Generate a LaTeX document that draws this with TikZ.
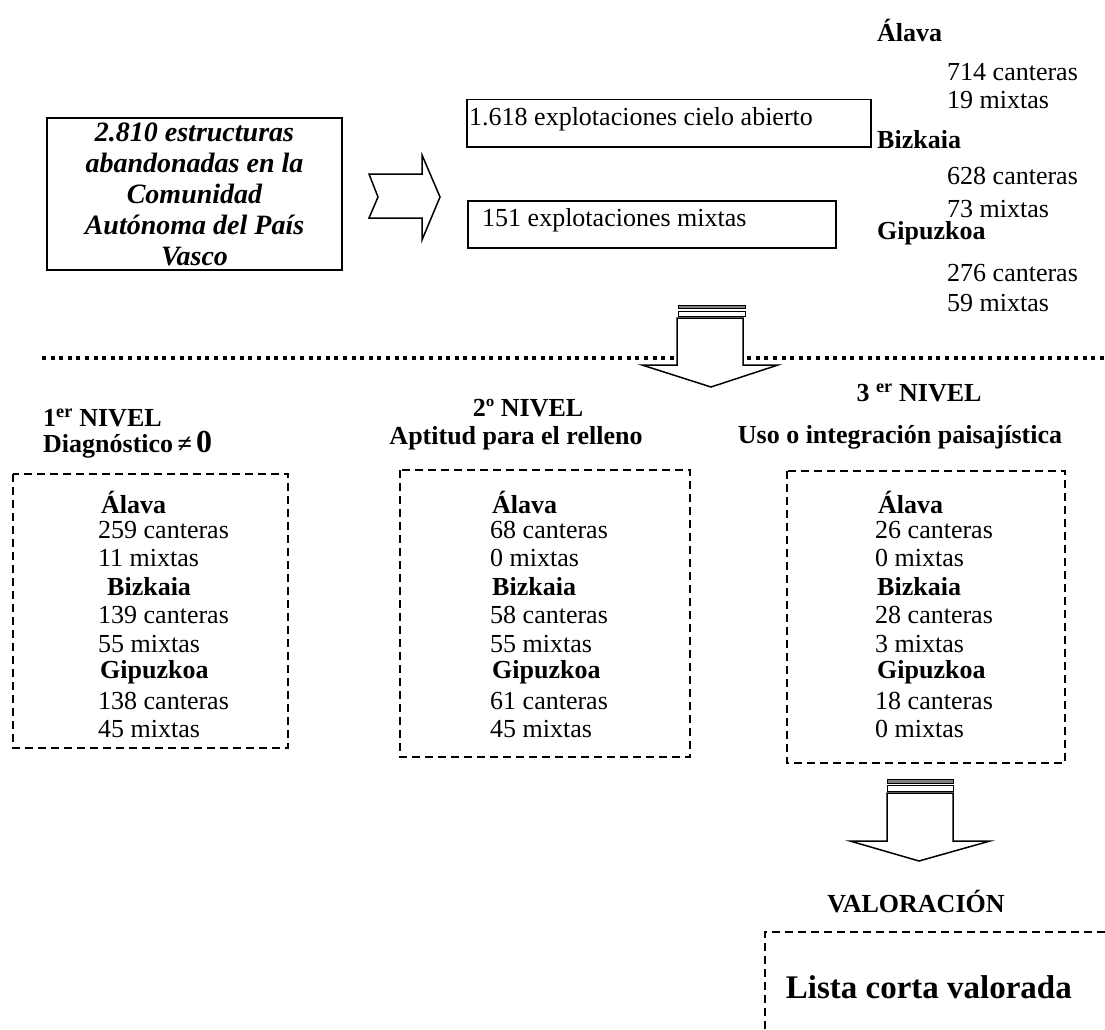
\documentclass[tikz,border=0pt]{standalone}
\usepackage{fontspec}
\setmainfont{Liberation Serif}
\tikzset{
  txt/.style={inner sep=0pt,anchor=west,font=\fontsize{26}{29}\selectfont},
  hdr/.style={inner sep=0pt,anchor=west,font=\fontsize{26}{29}\selectfont\bfseries},
  solidbox/.style={draw,line width=1.5pt},
  nivelbox/.style={line width=1.5pt,dash pattern=on 8pt off 5pt},
  blockarrow/.style={line width=1.5pt,fill=white,line join=miter},
}
\begin{document}
\begin{tikzpicture}[x=1pt,y=-1pt]
	\useasboundingbox (0,0) rectangle (1105,1030);
	% totales por provincia
	\node[hdr] (alava) at (877,30) {Álava};
	\node[txt] (alavac) at (947,72) {714 canteras};
	\node[txt] (alavam) at (947,100) {19 mixtas};
	\node[hdr] (bizkaia) at (877,140) {Bizkaia};
	\node[txt] (bizkaiac) at (947,176) {628 canteras};
	\node[txt] (bizkaiam) at (947,209) {73 mixtas};
	\node[hdr] (gipuzkoa) at (877,233) {Gipuzkoa};
	\node[txt] (gipuzkoac) at (947,273) {276 canteras};
	\node[txt] (gipuzkoam) at (947,303) {59 mixtas};
	% estructuras
	\node[solidbox,minimum width=295pt,minimum height=152pt,align=center,inner sep=0pt,
		font=\fontsize{28}{31}\selectfont\bfseries\itshape] (total) at (194.5,194)
		{2.810 estructuras\\abandonadas en la\\Comunidad\\Autónoma del País\\Vasco};
	\node[solidbox,anchor=north west,minimum width=404pt,minimum height=47pt,inner sep=0pt] (cielo) at (466,99) {};
	\node[txt] (cielot) at (469,119) {1.618 explotaciones cielo abierto};
	\node[solidbox,anchor=north west,minimum width=368pt,minimum height=47pt,inner sep=0pt] (mixtas) at (467,200) {};
	\node[txt] (mixtast) at (482,220) {151 explotaciones mixtas};
	\draw[blockarrow] (369,174)--(422,174)--(422,155)--(440,197)--(422,240)--(422,218)--(369,218)--(378,197)--cycle;
	% separador
	\draw[line width=4pt,dash pattern=on 4pt off 4.6pt] (42,358)--(1105,358);
	\draw[blockarrow] (677,318)--(677,365)--(642,365)--(711,387)--(778,365)--(743,365)--(743,318)--cycle;
	\draw[line width=1pt,fill=gray] (678,305) rectangle (745,308);
	\draw[line width=1pt] (678,311) rectangle (745,316);
	% niveles
	\node[hdr] (n1) at (43,418) {1\textsuperscript{er} NIVEL};
	\node[hdr] (d1) at (43,445) {Diagnóstico\,≠\,{\fontsize{32}{32}\selectfont 0}};
	\node[hdr,anchor=center] (n2) at (528,408) {2º NIVEL};
	\node[hdr,anchor=center] (d2) at (516,438) {Aptitud para el relleno};
	\node[hdr,anchor=center] (n3) at (919,393) {3 \textsuperscript{er} NIVEL};
	\node[hdr,anchor=center] (d3) at (900,437) {Uso o integración paisajística};
	\draw[nivelbox] (13,474) rectangle (288,748);
	\draw[nivelbox] (400,470) rectangle (690,757);
	\draw[nivelbox] (787,471) rectangle (1065,763);
	% nivel 1
	\node[hdr] (a1) at (101,502) {Álava};
	\node[txt] (a1c) at (98,530) {259 canteras};
	\node[txt] (a1m) at (98,558) {11 mixtas};
	\node[hdr] (b1) at (107,587) {Bizkaia};
	\node[txt] (b1c) at (98,615) {139 canteras};
	\node[txt] (b1m) at (98,644) {55 mixtas};
	\node[hdr] (g1) at (100,672) {Gipuzkoa};
	\node[txt] (g1c) at (98,701) {138 canteras};
	\node[txt] (g1m) at (98,729) {45 mixtas};
	% nivel 2
	\node[hdr] (a2) at (492,502) {Álava};
	\node[txt] (a2c) at (490,530) {68 canteras};
	\node[txt] (a2m) at (490,558) {0 mixtas};
	\node[hdr] (b2) at (492,587) {Bizkaia};
	\node[txt] (b2c) at (490,615) {58 canteras};
	\node[txt] (b2m) at (490,644) {55 mixtas};
	\node[hdr] (g2) at (492,672) {Gipuzkoa};
	\node[txt] (g2c) at (490,701) {61 canteras};
	\node[txt] (g2m) at (490,729) {45 mixtas};
	% nivel 3
	\node[hdr] (a3) at (878,502) {Álava};
	\node[txt] (a3c) at (875,530) {26 canteras};
	\node[txt] (a3m) at (875,558) {0 mixtas};
	\node[hdr] (b3) at (877,587) {Bizkaia};
	\node[txt] (b3c) at (875,615) {28 canteras};
	\node[txt] (b3m) at (875,644) {3 mixtas};
	\node[hdr] (g3) at (877,672) {Gipuzkoa};
	\node[txt] (g3c) at (875,701) {18 canteras};
	\node[txt] (g3m) at (875,729) {0 mixtas};
	% valoracion
	\draw[blockarrow] (887,793)--(887,841)--(850,841)--(919,861)--(990,841)--(953,841)--(953,793)--cycle;
	\draw[line width=1pt,fill=gray] (887,779) rectangle (953,783);
	\draw[line width=1pt] (887,785) rectangle (953,791);
	\node[hdr,anchor=center] (val) at (916,902) {VALORACIÓN};
	\draw[nivelbox] (1105,932)--(765,932)--(765,1030);
	\node[hdr,anchor=east,font=\fontsize{33}{35}\selectfont\bfseries] (lista) at (1072,987) {Lista corta valorada};
\end{tikzpicture}
\end{document}
